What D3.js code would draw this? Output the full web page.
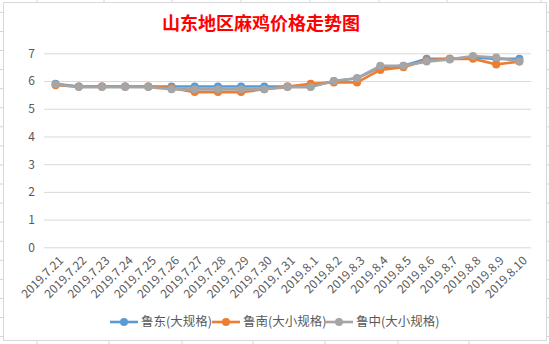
<!DOCTYPE html>
<html><head><meta charset="utf-8">
<script src="https://cdn.jsdelivr.net/npm/d3@7"></script>
<style>body{margin:0;background:#fff;} svg{display:block;}</style>
</head><body>
<svg id="c" width="549" height="344"></svg>
<script>
const title = "山东地区麻鸡价格走势图";
const categories = ["2019.7.21","2019.7.22","2019.7.23","2019.7.24","2019.7.25","2019.7.26","2019.7.27","2019.7.28","2019.7.29","2019.7.30","2019.7.31","2019.8.1","2019.8.2","2019.8.3","2019.8.4","2019.8.5","2019.8.6","2019.8.7","2019.8.8","2019.8.9","2019.8.10"];
const seriesNames = ["鲁东(大规格)","鲁南(大小规格)","鲁中(大小规格)"];
const ludong  = [5.9,5.8,5.8,5.8,5.8,5.8,5.8,5.8,5.8,5.8,5.8,5.8,6.0,6.1,6.5,6.55,6.8,6.8,6.85,6.8,6.8];
const lunan   = [5.85,5.8,5.8,5.8,5.8,5.75,5.6,5.6,5.6,5.7,5.8,5.9,5.95,5.95,6.4,6.5,6.75,6.8,6.8,6.6,6.7];
const luzhong = [5.88,5.78,5.78,5.78,5.78,5.7,5.7,5.7,5.7,5.7,5.78,5.78,6.0,6.1,6.55,6.55,6.7,6.78,6.9,6.85,6.7];
const yTicks = [0,1,2,3,4,5,6,7];
const colors = ["#5B9BD5","#ED7D31","#A5A5A5"];
const allSeries = [ludong, lunan, luzhong];

const svg = d3.select("#c");
const font = "'Noto Sans CJK SC','Noto Sans',sans-serif";

// spreadsheet background grid (outside chart)
const gridC = "#d4d4d4";
[37,104,172,241,310,379,447,541].forEach(x=>svg.append("line").attr("x1",x).attr("x2",x).attr("y1",0).attr("y2",3).attr("stroke",gridC));
[37,109,182,253,325,398,469].forEach(x=>svg.append("line").attr("x1",x).attr("x2",x).attr("y1",341).attr("y2",344).attr("stroke",gridC));
d3.range(0,18).map(k=>12.4+19.07*k).forEach(y=>{
  svg.append("line").attr("x1",0).attr("x2",3).attr("y1",y).attr("y2",y).attr("stroke",gridC);
  svg.append("line").attr("x1",546).attr("x2",549).attr("y1",y).attr("y2",y).attr("stroke",gridC);
});
// chart area
svg.append("rect").attr("x",3.5).attr("y",2.5).attr("width",543).attr("height",338).attr("fill","#fff").attr("stroke","#d9d9d9");

const x = d3.scalePoint().domain(categories).range([55.6,519.4]);
const y = d3.scaleLinear().domain([0,7]).range([247.3,53.3]);

// gridlines
const yAxis = d3.axisLeft(y).tickValues(yTicks).tickSize(-(531-44)).tickFormat(d3.format("d"));
const gy = svg.append("g").attr("transform","translate(44,0)").call(yAxis);
gy.select(".domain").remove();
gy.selectAll(".tick line").attr("stroke","#d9d9d9").attr("stroke-width",1);
gy.selectAll(".tick text").attr("x",-9).attr("fill","#595959").style("font-family",font).style("font-size","12px");

// x axis labels
const xAxis = d3.axisBottom(x).tickSize(0);
const gx = svg.append("g").attr("transform","translate(0,247.3)").call(xAxis);
gx.select(".domain").remove();
gx.selectAll(".tick text")
  .attr("fill","#595959").style("font-family",font).style("font-size","12px")
  .attr("text-anchor","end").attr("y",0).attr("dy",0)
  .attr("transform","translate(8,14) rotate(-45)");

// title
svg.append("text").attr("x",261).attr("y",30).attr("text-anchor","middle")
  .attr("fill","#ff0000").style("font-family",font).style("font-size","18px").style("font-weight","bold").text(title);

// lines
const line = d3.line().x((d,i)=>x(categories[i])).y(d=>y(d));
allSeries.forEach((s,si)=>{
  svg.append("path").datum(s).attr("d",line).attr("fill","none").attr("stroke",colors[si]).attr("stroke-width",2.6).attr("stroke-linejoin","round");
  svg.append("g").selectAll("circle").data(s).join("circle")
    .attr("cx",(d,i)=>x(categories[i])).attr("cy",d=>y(d)).attr("r",4).attr("fill",colors[si]);
});

// legend
const legX = [110,212,325];
seriesNames.forEach((n,i)=>{
  const g = svg.append("g").attr("transform",`translate(${legX[i]},322)`);
  g.append("line").attr("x1",0).attr("x2",28).attr("stroke",colors[i]).attr("stroke-width",2.6);
  g.append("circle").attr("cx",14).attr("r",4).attr("fill",colors[i]);
  g.append("text").attr("x",31).attr("y",0).attr("dy","0.35em").attr("fill","#595959")
    .style("font-family",font).style("font-size","12.5px").text(n);
});
</script>
</body></html>
